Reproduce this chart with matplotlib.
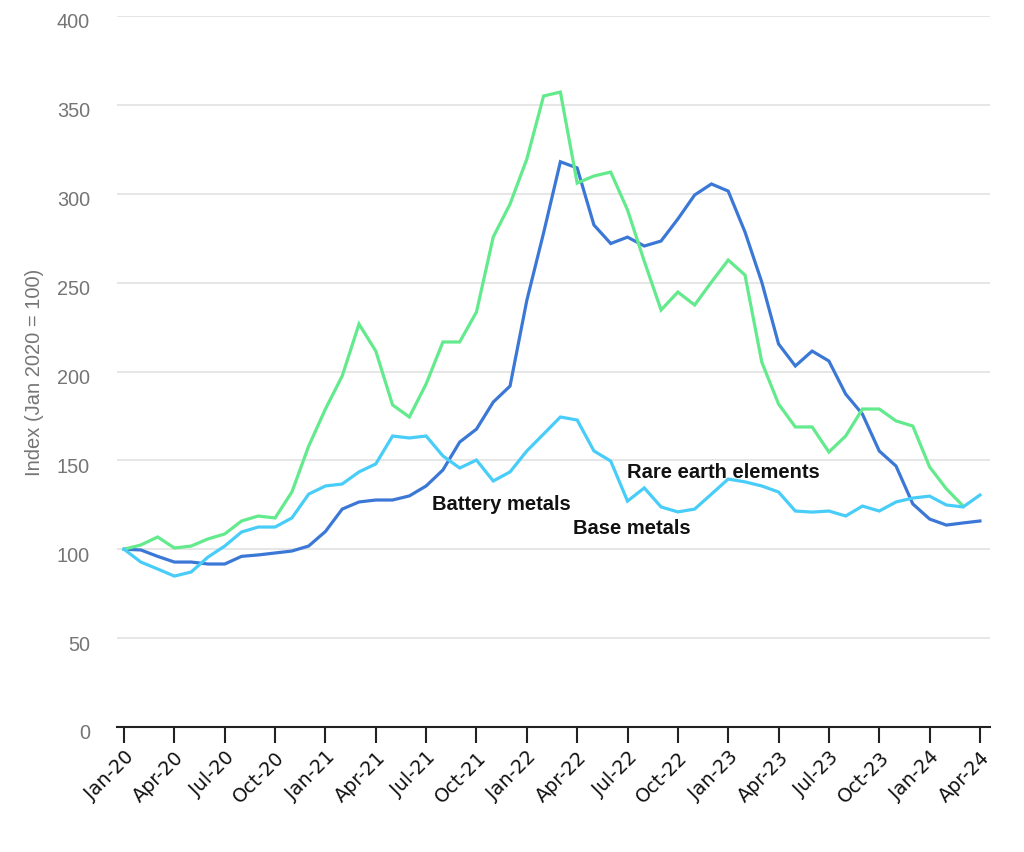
import matplotlib
matplotlib.use("Agg")
import matplotlib.pyplot as plt
from matplotlib.transforms import ScaledTranslation
import numpy as np

months = ["Jan-20","Feb-20","Mar-20","Apr-20","May-20","Jun-20","Jul-20","Aug-20","Sep-20","Oct-20","Nov-20","Dec-20",
          "Jan-21","Feb-21","Mar-21","Apr-21","May-21","Jun-21","Jul-21","Aug-21","Sep-21","Oct-21","Nov-21","Dec-21",
          "Jan-22","Feb-22","Mar-22","Apr-22","May-22","Jun-22","Jul-22","Aug-22","Sep-22","Oct-22","Nov-22","Dec-22",
          "Jan-23","Feb-23","Mar-23","Apr-23","May-23","Jun-23","Jul-23","Aug-23","Sep-23","Oct-23","Nov-23","Dec-23",
          "Jan-24","Feb-24","Mar-24","Apr-24"]

battery_metals = [100, 99.6, 96, 92.8, 92.8, 91.7, 91.7, 96, 96.8, 97.9, 99, 101.8,
                  110, 122.6, 126.6, 127.7, 127.7, 130, 135.6, 144.6, 160.3, 167.6, 182.8, 191.8,
                  240, 278, 318, 314.5, 282.4, 272, 275.6, 270.6, 273.4, 285.8, 299.3, 305.5,
                  301.5, 278.5, 250.3, 215.5, 203.1, 211.5, 205.9, 187.3, 176, 155.3, 146.8, 125.5,
                  117, 113.6, 114.8, 115.9]

rare_earth_elements = [100, 102.4, 106.9, 100.7, 101.8, 105.8, 108.6, 115.9, 118.7, 117.6, 132.2, 158,
                       178.9, 197.5, 226.7, 211.5, 181.2, 174.4, 193, 216.6, 216.6, 233.5, 275.7, 294.2,
                       319.5, 355, 357.2, 306, 310, 312.2, 290.9, 262, 234.6, 244.7, 237.4, 250.3,
                       262.7, 254.3, 205.3, 181.7, 168.8, 168.8, 154.7, 163.7, 178.9, 178.9, 172.2, 169.3,
                       146.3, 134, 124.3, np.nan]

base_metals = [100, 92.8, 88.9, 84.9, 87.2, 95.6, 101.8, 109.7, 112.5, 112.5, 117.6, 131,
               135.6, 136.7, 143.5, 148, 163.7, 162.6, 163.7, 152.5, 145.7, 150.2, 138.4, 143.5,
               155.3, 164.8, 174.4, 172.7, 155.3, 149.6, 127.1, 134.5, 123.8, 121, 122.6, 131,
               139.5, 137.9, 135.6, 132.2, 121.5, 120.9, 121.5, 118.7, 124.3, 121.5, 126.6, 128.8,
               129.9, 124.9, 123.8, 130.5]

y_ticks = [0, 50, 100, 150, 200, 250, 300, 350, 400]
y_label = "Index (Jan 2020 = 100)"

fig = plt.figure(figsize=(10.24, 8.53), dpi=100)
ax = fig.add_axes([117/1024, 1-728/853, (990-117)/1024, (728-17)/853])

x = np.arange(len(months))
lw = 2.3
ax.plot(x, battery_metals, color="#3b78d6", lw=lw, solid_joinstyle="miter")
ax.plot(x, rare_earth_elements, color="#62ea8c", lw=lw, solid_joinstyle="miter")
ax.plot(x, base_metals, color="#47cdf8", lw=lw, solid_joinstyle="miter")

ax.set_xlim(-0.42, 51.6)
ax.set_ylim(0, 400)

ax.set_yticks(y_ticks)
ax.set_yticklabels([str(v) for v in y_ticks], fontsize=14.3, color="#757575", family="Liberation Sans")
ax.tick_params(axis="y", length=0, pad=19.5)
off = ScaledTranslation(0, -4/100, fig.dpi_scale_trans)
for lab in ax.get_yticklabels():
    lab.set_transform(lab.get_transform() + off)
ax.grid(axis="y", color="#e2e2e2", lw=1.2)
ax.set_axisbelow(True)

tick_idx = list(range(0, len(months), 3))
ax.set_xticks(tick_idx)
ax.set_xticklabels([months[i] for i in tick_idx], rotation=45, ha="right", rotation_mode="anchor",
                   fontsize=13.8, color="#111111", family="DejaVu Sans")
ax.tick_params(axis="x", length=11.5, width=1.5, color="#222222", pad=3)

for s in ["left", "right", "top"]:
    ax.spines[s].set_visible(False)
ax.spines["bottom"].set_color("#222222")
ax.spines["bottom"].set_linewidth(1.5)

ax.set_ylabel(y_label, fontsize=14.5, color="#757575", family="Liberation Sans", labelpad=9)

tkw = dict(fontsize=14.5, fontweight="bold", color="#111111", family="Liberation Sans", ha="left", va="center")
ax.text(18.37, 125.5, "Battery metals", **tkw)
ax.text(26.77, 112, "Base metals", **tkw)
ax.text(29.99, 144, "Rare earth elements", **tkw)

fig.savefig("out.png", dpi=100, facecolor="white")
